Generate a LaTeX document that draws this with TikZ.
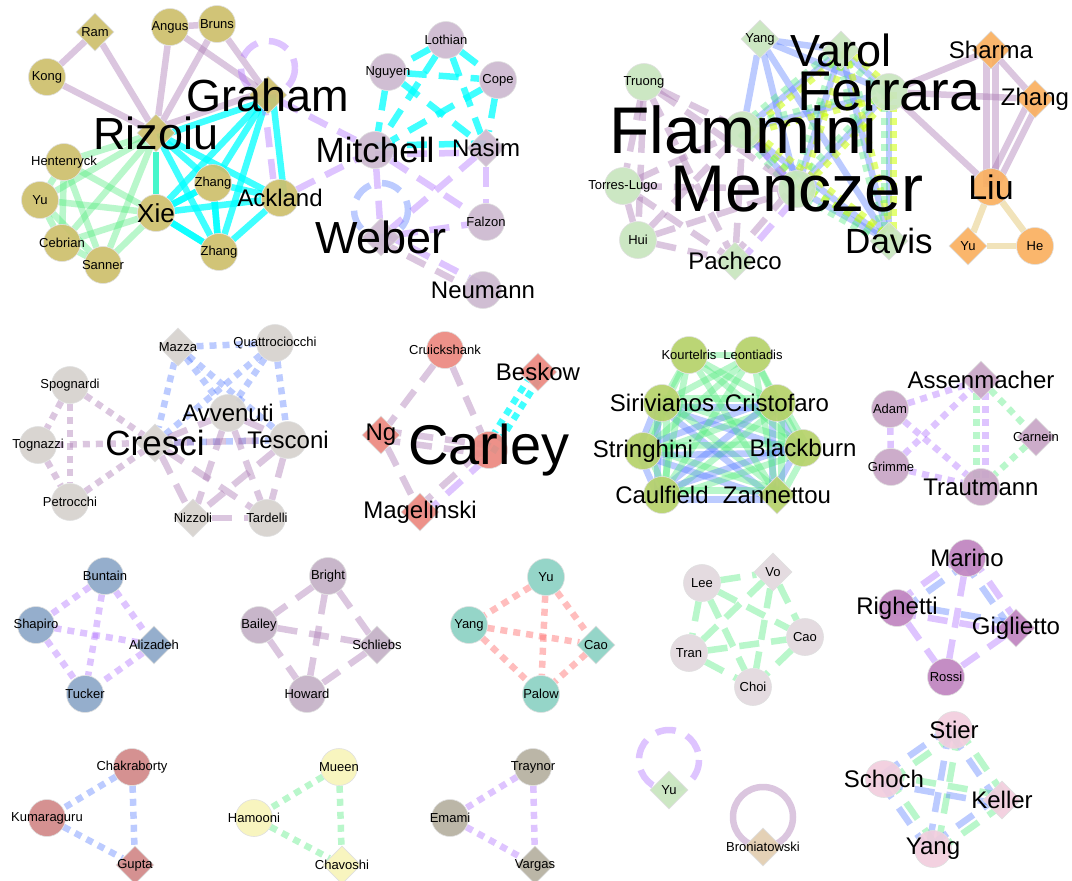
\documentclass[tikz,border=0pt]{standalone}
\usepackage{fontspec}
\setmainfont{Liberation Sans}
\usetikzlibrary{shapes.geometric,calc}
\pgfdeclarelayer{edges}
\pgfdeclarelayer{labels}
\pgfsetlayers{edges,main,labels}

% node fills
\definecolor{olive}{RGB}{206,192,108}
\definecolor{thistleN}{RGB}{204,185,208}
\definecolor{sage}{RGB}{200,230,190}
\definecolor{apricot}{RGB}{250,176,96}
\definecolor{stone}{RGB}{214,210,206}
\definecolor{coral}{RGB}{236,136,128}
\definecolor{lime}{RGB}{182,210,106}
\definecolor{plum}{RGB}{200,166,198}
\definecolor{steel}{RGB}{140,168,200}
\definecolor{dusk}{RGB}{196,176,198}
\definecolor{teal}{RGB}{140,210,196}
\definecolor{mist}{RGB}{226,216,222}
\definecolor{orchidN}{RGB}{192,132,192}
\definecolor{rose}{RGB}{210,136,136}
\definecolor{cream}{RGB}{248,245,186}
\definecolor{taupe}{RGB}{182,176,160}
\definecolor{wheatN}{RGB}{226,206,176}
\definecolor{blush}{RGB}{242,206,222}
% connector colours
\definecolor{mauveE}{RGB}{170,120,180}
\definecolor{cyanE}{RGB}{0,255,255}
\definecolor{greenE}{RGB}{80,235,125}
\definecolor{lavE}{RGB}{170,100,255}
\definecolor{blueE}{RGB}{80,120,255}
\definecolor{ygE}{RGB}{205,255,0}
\definecolor{salE}{RGB}{255,110,110}
\definecolor{wheatE}{RGB}{235,212,150}

\tikzset{
  nbase/.style={draw=black!12,line width=.6pt,inner sep=0pt,fill opacity=.92},
  cnode/.style={nbase,circle,minimum size=37pt},
  dnode/.style={nbase,diamond,aspect=1,minimum width=38pt,minimum height=38pt},
  lbl/.style={inner sep=0pt,text=black},
  ed/.style={line width=6.5pt,line cap=butt},
  longdash/.style={dash pattern=on 20pt off 12pt},
  squaredot/.style={dash pattern=on 7pt off 6pt},
  mS/.style={ed,draw=mauveE,draw opacity=.42},
  mD/.style={mS,longdash},
  mT/.style={mS,squaredot},
  cS/.style={ed,draw=cyanE,draw opacity=.75},
  cD/.style={cS,longdash},
  cT/.style={cS,squaredot},
  gS/.style={ed,draw=greenE,draw opacity=.4},
  gD/.style={gS,longdash},
  gT/.style={gS,squaredot},
  lD/.style={ed,draw=lavE,draw opacity=.38,longdash},
  lT/.style={ed,draw=lavE,draw opacity=.38,squaredot},
  bS/.style={ed,draw=blueE,draw opacity=.38},
  bD/.style={bS,longdash},
  bT/.style={bS,squaredot},
  yT/.style={ed,draw=ygE,draw opacity=.55,squaredot},
  sT/.style={ed,draw=salE,draw opacity=.45,squaredot},
  wS/.style={ed,draw=wheatE,draw opacity=.65},
}

% circle / diamond node with its label on the top layer
\newcommand\cn[5]{%
  \node[cnode,fill=#3] (#1) at (#2) {};
  \begin{pgfonlayer}{labels}\node[lbl,font=\fontsize{#4}{#4}\selectfont] (#1l) at (#2) {#5};\end{pgfonlayer}}
\newcommand\dn[5]{%
  \node[dnode,fill=#3] (#1) at (#2) {};
  \begin{pgfonlayer}{labels}\node[lbl,font=\fontsize{#4}{#4}\selectfont] (#1l) at (#2) {#5};\end{pgfonlayer}}
% single and parallel connectors
\newcommand\edg[3]{\draw[#1] (#2) -- (#3);}
\newcommand\dbl[4]{%
  \draw[#1] ($(#3)!4.5pt!90:(#4)$) -- ($(#4)!4.5pt!-90:(#3)$);
  \draw[#2] ($(#3)!4.5pt!-90:(#4)$) -- ($(#4)!4.5pt!90:(#3)$);}
% all pairs of a group
\newcommand\clique[2]{\foreach \a [count=\i] in {#2}{\foreach \b [count=\j] in {#2}{\ifnum\j>\i \draw[#1] (\a) -- (\b);\fi}}}
\newcommand\dclique[3]{\foreach \a [count=\i] in {#3}{\foreach \b [count=\j] in {#3}{\ifnum\j>\i \dbl{#1}{#2}{\a}{\b}\fi}}}
% self loop sitting above a node
\newcommand\selfloop[3]{\draw[#1] (#2) ++(0,-#3) circle[radius=#3];}

\begin{document}
\begin{tikzpicture}[x=1pt,y=-1pt]
\useasboundingbox (0,0) rectangle (1072,881);
\begin{pgfonlayer}{edges}
\fill[white] (0,0) rectangle (1072,881);
\end{pgfonlayer}

% ---- group around Rizoiu / Graham / Mitchell
\dn{Ram}{95,32}{olive}{13}{Ram}
\cn{Angus}{170,27}{olive}{13}{Angus}
\cn{Bruns}{217,24}{olive}{13}{Bruns}
\cn{Kong}{47,77}{olive}{13}{Kong}
\dn{Graham}{268,95}{olive}{45}{Graham}
\dn{Rizoiu}{156,133}{olive}{45}{Rizoiu}
\cn{Hentenryck}{64,162}{olive}{13}{Hentenryck}
\cn{YuA}{40,200}{olive}{13}{Yu}
\cn{Cebrian}{62,243}{olive}{13}{Cebrian}
\cn{Sanner}{103,265}{olive}{13}{Sanner}
\cn{Xie}{156,213}{olive}{26}{Xie}
\cn{ZhangA}{213,183}{olive}{13}{Zhang}
\cn{Ackland}{280,198}{olive}{24}{Ackland}
\cn{ZhangB}{219,252}{olive}{13}{Zhang}
\cn{Mitchell}{375,150}{thistleN}{35}{Mitchell}
\dn{Nasim}{486,148}{thistleN}{24}{Nasim}
\cn{Lothian}{446,40}{thistleN}{13}{Lothian}
\cn{Nguyen}{388,72}{thistleN}{13}{Nguyen}
\cn{Cope}{498,80}{thistleN}{13}{Cope}
\dn{Weber}{381,237}{thistleN}{45}{Weber}
\cn{Falzon}{486,222}{thistleN}{13}{Falzon}
\cn{Neumann}{483,290}{thistleN}{24}{Neumann}

% ---- group around Flammini / Menczer and Liu
\dn{YangA}{760,39}{sage}{13}{Yang}
\dn{Varol}{841,50}{sage}{45}{Varol}
\cn{Ferrara}{889,92}{sage}{56}{Ferrara}
\cn{Flammini}{743,130}{sage}{66}{Flammini}
\cn{Menczer}{797,189}{sage}{66}{Menczer}
\dn{Davis}{889,241}{sage}{35}{Davis}
\dn{Pacheco}{735,261}{sage}{24}{Pacheco}
\cn{Truong}{644,82}{sage}{13}{Truong}
\cn{TorresLugo}{623,186}{sage}{13}{Torres-Lugo}
\cn{Hui}{638,240}{sage}{13}{Hui}
\dn{Sharma}{991,50}{apricot}{24}{Sharma}
\dn{ZhangC}{1035,99}{apricot}{24}{Zhang}
\cn{Liu}{991,187}{apricot}{34}{Liu}
\dn{YuB}{968,246}{apricot}{13}{Yu}
\cn{He}{1035,246}{apricot}{13}{He}

% ---- group around Cresci
\dn{Mazza}{178,347}{stone}{13}{Mazza}
\cn{Quattro}{275,343}{stone}{13}{Quattrociocchi}
\cn{Spognardi}{70,385}{stone}{13}{Spognardi}
\cn{Tognazzi}{38,445}{stone}{13}{Tognazzi}
\dn{Cresci}{155,443}{stone}{35}{Cresci}
\cn{Avvenuti}{228,413}{stone}{24}{Avvenuti}
\cn{Tesconi}{288,440}{stone}{24}{Tesconi}
\cn{Petrocchi}{70,502}{stone}{13}{Petrocchi}
\dn{Nizzoli}{193,518}{stone}{13}{Nizzoli}
\cn{Tardelli}{267,518}{stone}{13}{Tardelli}

% ---- group around Carley
\cn{Cruickshank}{445,350}{coral}{13}{Cruickshank}
\dn{Beskow}{538,372}{coral}{24}{Beskow}
\dn{Ng}{381,435}{coral}{24}{Ng}
\cn{Carley}{489,450}{coral}{56}{Carley}
\dn{Magelinski}{420,512}{coral}{24}{Magelinski}

% ---- group around Sirivianos
\cn{Kourtelris}{689,355}{lime}{13}{Kourtelris}
\cn{Leontiadis}{753,355}{lime}{13}{Leontiadis}
\cn{Sirivianos}{662,403}{lime}{24}{Sirivianos}
\cn{Cristofaro}{777,403}{lime}{24}{Cristofaro}
\cn{Stringhini}{643,451}{lime}{24}{Stringhini}
\cn{Blackburn}{803,448}{lime}{24}{Blackburn}
\cn{Caulfield}{662,495}{lime}{24}{Caulfield}
\dn{Zannettou}{777,495}{lime}{24}{Zannettou}

% ---- group around Assenmacher
\dn{Assenmacher}{981,380}{plum}{24}{Assenmacher}
\cn{Adam}{890,409}{plum}{13}{Adam}
\dn{Carnein}{1036,437}{plum}{13}{Carnein}
\cn{Grimme}{891,467}{plum}{13}{Grimme}
\cn{Trautmann}{981,487}{plum}{24}{Trautmann}

% ---- small groups
\cn{Buntain}{105,576}{steel}{13}{Buntain}
\cn{Shapiro}{36,625}{steel}{13}{Shapiro}
\dn{Alizadeh}{154,645}{steel}{13}{Alizadeh}
\cn{Tucker}{85,694}{steel}{13}{Tucker}

\cn{Bright}{328,576}{dusk}{13}{Bright}
\cn{Bailey}{259,625}{dusk}{13}{Bailey}
\dn{Schliebs}{377,645}{dusk}{13}{Schliebs}
\cn{Howard}{307,694}{dusk}{13}{Howard}

\cn{YuT}{546,577}{teal}{13}{Yu}
\cn{YangT}{469,625}{teal}{13}{Yang}
\dn{CaoT}{596,645}{teal}{13}{Cao}
\cn{Palow}{541,694}{teal}{13}{Palow}

\cn{Lee}{702,583}{mist}{13}{Lee}
\dn{Vo}{773,572}{mist}{13}{Vo}
\cn{Tran}{689,653}{mist}{13}{Tran}
\cn{CaoL}{805,637}{mist}{13}{Cao}
\cn{Choi}{753,687}{mist}{13}{Choi}

\cn{Marino}{967,558}{orchidN}{24}{Marino}
\cn{Righetti}{897,608}{orchidN}{24}{Righetti}
\dn{Giglietto}{1016,628}{orchidN}{24}{Giglietto}
\cn{Rossi}{946,677}{orchidN}{13}{Rossi}

\cn{Chakraborty}{132,767}{rose}{13}{Chakraborty}
\cn{Kumaraguru}{47,818}{rose}{13}{Kumaraguru}
\dn{Gupta}{135,865}{rose}{13}{Gupta}

\cn{Mueen}{339,767}{cream}{13}{Mueen}
\cn{Hamooni}{254,818}{cream}{13}{Hamooni}
\dn{Chavoshi}{342,865}{cream}{13}{Chavoshi}

\cn{Traynor}{533,767}{taupe}{13}{Traynor}
\cn{Emami}{450,818}{taupe}{13}{Emami}
\dn{Vargas}{535,865}{taupe}{13}{Vargas}

\dn{YuG}{669,790}{sage}{13}{Yu}
\dn{Broniatowski}{763,847}{wheatN}{13}{Broniatowski}

\cn{Stier}{954,730}{blush}{24}{Stier}
\cn{Schoch}{884,779}{blush}{24}{Schoch}
\dn{Keller}{1002,800}{blush}{24}{Keller}
\cn{YangP}{933,849}{blush}{24}{Yang}

% ================= connectors =================
\begin{pgfonlayer}{edges}
% Rizoiu / Graham
\edg{mS}{Ram}{Kong}
\edg{mS}{Ram}{Rizoiu}
\edg{mS}{Kong}{Rizoiu}
\edg{mS}{Angus}{Rizoiu}
\edg{mS}{Bruns}{Rizoiu}
\edg{mS}{Angus}{Bruns}
\edg{mS}{Angus}{Graham}
\edg{mS}{Bruns}{Graham}
\dbl{mS}{cS}{Rizoiu}{Graham}
\clique{cS}{Rizoiu,Xie,ZhangA,ZhangB,Ackland}
\clique{cS}{Graham,Xie,ZhangA,ZhangB}
\dbl{cS}{lD}{Graham}{Ackland}
\clique{gS}{Rizoiu,Hentenryck,YuA,Cebrian,Sanner,Xie}
\selfloop{lD}{Graham}{27}
\edg{lD}{Graham}{Mitchell}
\edg{lD}{Ackland}{Mitchell}
% Mitchell / Nasim
\clique{cD}{Lothian,Nguyen,Cope,Mitchell}
\edg{cD}{Lothian}{Nasim}
\edg{cD}{Nguyen}{Nasim}
\edg{cD}{Cope}{Nasim}
\dbl{cD}{lD}{Mitchell}{Nasim}
\edg{lD}{Mitchell}{Falzon}
\edg{lD}{Mitchell}{Weber}
\edg{lD}{Nasim}{Weber}
\edg{lD}{Nasim}{Falzon}
\edg{lD}{Weber}{Falzon}
\dbl{lD}{mD}{Weber}{Neumann}
\selfloop{bD}{Weber}{27}

% Flammini / Menczer
\clique{bS}{YangA,Varol,Ferrara,Flammini,Menczer,Davis}
\dclique{yT}{gT}{Varol,Ferrara,Flammini,Menczer,Davis}
\clique{mD}{Truong,TorresLugo,Hui,Pacheco,Flammini}
\edg{mD}{Truong}{Menczer}
\edg{mD}{TorresLugo}{Menczer}
\edg{mD}{Hui}{Menczer}
\dbl{mD}{lD}{Pacheco}{Menczer}
\edg{lD}{Flammini}{Menczer}
% Liu
\edg{mS}{Ferrara}{Sharma}
\edg{mS}{Ferrara}{ZhangC}
\edg{mS}{Ferrara}{Liu}
\edg{mS}{Sharma}{ZhangC}
\dbl{mS}{mS}{Sharma}{Liu}
\dbl{mS}{mS}{ZhangC}{Liu}
\clique{wS}{Liu,YuB,He}

% Cresci
\clique{mT}{Spognardi,Tognazzi,Petrocchi,Cresci}
\clique{bT}{Mazza,Quattro,Cresci,Tesconi}
\edg{bT}{Mazza}{Avvenuti}
\edg{bT}{Quattro}{Avvenuti}
\clique{mD}{Cresci,Avvenuti,Tesconi,Nizzoli,Tardelli}

% Carley
\edg{mD}{Cruickshank}{Ng}
\edg{mD}{Cruickshank}{Carley}
\edg{mD}{Ng}{Magelinski}
\dbl{mD}{mD}{Ng}{Carley}
\dbl{mD}{lD}{Magelinski}{Carley}
\dbl{cT}{cT}{Carley}{Beskow}

% Sirivianos
\dclique{gS}{bS}{Sirivianos,Cristofaro,Stringhini,Blackburn,Caulfield,Zannettou}
\foreach \t in {Leontiadis,Sirivianos,Cristofaro,Stringhini,Blackburn,Caulfield,Zannettou}{\draw[gS] (Kourtelris) -- (\t);}
\foreach \t in {Sirivianos,Cristofaro,Stringhini,Blackburn,Caulfield,Zannettou}{\draw[gS] (Leontiadis) -- (\t);}

% Assenmacher
\clique{lT}{Adam,Grimme,Assenmacher}
\edg{lT}{Adam}{Trautmann}
\edg{lT}{Grimme}{Trautmann}
\dbl{lT}{gT}{Assenmacher}{Trautmann}
\edg{gT}{Assenmacher}{Carnein}
\edg{gT}{Carnein}{Trautmann}

% small groups
\clique{lT}{Buntain,Shapiro,Alizadeh,Tucker}
\clique{mD}{Bright,Bailey,Schliebs,Howard}
\clique{sT}{YuT,YangT,CaoT,Palow}
\clique{gD}{Lee,Vo,Tran,CaoL,Choi}
\dbl{bD}{lD}{Marino}{Righetti}
\dbl{lD}{bD}{Marino}{Giglietto}
\dbl{bD}{lD}{Righetti}{Giglietto}
\edg{lD}{Marino}{Rossi}
\edg{lD}{Righetti}{Rossi}
\edg{lD}{Giglietto}{Rossi}
\clique{bT}{Chakraborty,Kumaraguru,Gupta}
\clique{gT}{Mueen,Hamooni,Chavoshi}
\clique{lT}{Traynor,Emami,Vargas}
\selfloop{lD}{YuG}{30}
\selfloop{mS}{Broniatowski}{30}
\dclique{gD}{bD}{Stier,Schoch,Keller,YangP}
\end{pgfonlayer}
\end{tikzpicture}
\end{document}
